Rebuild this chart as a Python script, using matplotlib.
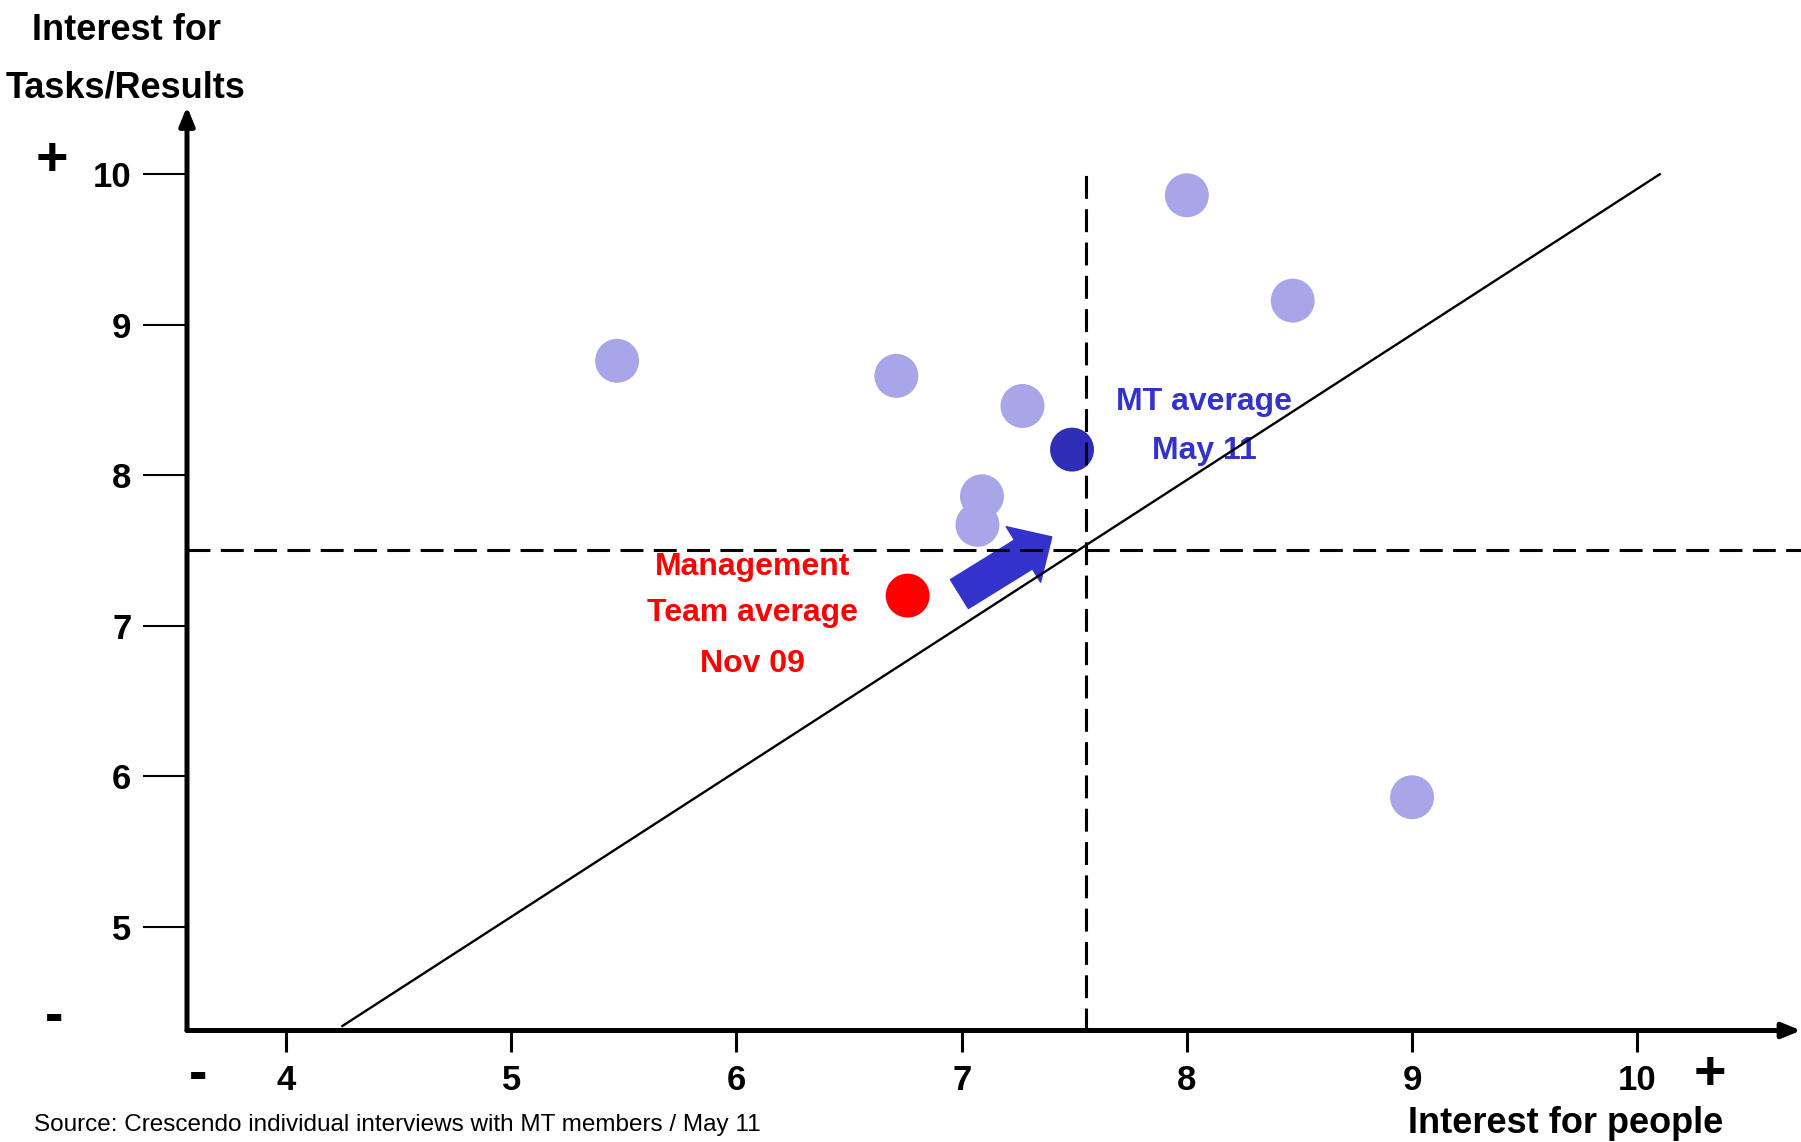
import matplotlib
matplotlib.use('Agg')
import matplotlib.pyplot as plt
from matplotlib import font_manager
from matplotlib.patches import FancyArrowPatch

# individual MT members, May 11 (interest for people, interest for tasks)
members_x = [5.47, 6.71, 7.27, 7.09, 7.07, 8.00, 8.47, 9.00]
members_y = [8.76, 8.66, 8.46, 7.86, 7.67, 9.86, 9.16, 5.86]
# team averages
avg_may11 = (7.49, 8.17)
avg_nov09 = (6.76, 7.20)

x_ticks = [4, 5, 6, 7, 8, 9, 10]
y_ticks = [5, 6, 7, 8, 9, 10]

# quadrant lines and diagonal
mid_x, mid_y = 7.55, 7.5
diag_x = [4.25, 10.10]
diag_y = [4.34, 10.00]

# arrow showing the move Nov 09 -> May 11
arrow_from = (6.99, 7.21)
arrow_to = (7.40, 7.59)

names = {f.name for f in font_manager.fontManager.ttflist}
main_font = 'Liberation Sans Narrow' if 'Liberation Sans Narrow' in names else 'Liberation Sans'
plt.rcParams['font.family'] = [main_font, 'DejaVu Sans']

W, H = 1801, 1142
fig = plt.figure(figsize=(W / 100, H / 100), dpi=100)
ax = fig.add_axes([187 / W, 1 - 1030.5 / H, 1 - 187 / W, (1030.5 - 106.5) / H])
ax.set_xlim(3.56, 10.727)
ax.set_ylim(4.31, 10.45)
for s in ax.spines.values():
    s.set_visible(False)
ax.patch.set_visible(False)

# axis lines with arrow heads
axis_kw = dict(arrowstyle='-|>,head_length=1.1,head_width=0.45', lw=3.6, color='black',
               mutation_scale=10, shrinkA=0, shrinkB=0)
ax.annotate('', xy=(1, 0), xytext=(0, 0), xycoords='axes fraction', arrowprops=axis_kw)
ax.annotate('', xy=(0, 1), xytext=(0, 0), xycoords='axes fraction', arrowprops=axis_kw)

ax.set_xticks(x_ticks)
ax.set_yticks(y_ticks)
ax.tick_params(axis='x', direction='out', length=15, width=2.2, pad=9, labelsize=25)
ax.tick_params(axis='y', direction='out', length=32, width=1.5, pad=8, labelsize=25)
for lab in ax.get_xticklabels() + ax.get_yticklabels():
    lab.set_fontweight('bold')

dash = (0, (7.5, 3.4))
ax.axhline(mid_y, color='black', lw=2.2, linestyle=dash, zorder=4)
ax.vlines(mid_x, 4.31, 10.04, color='black', lw=2.2, linestyle=dash, zorder=4)
ax.plot(diag_x, diag_y, color='black', lw=1.7, zorder=4)

ax.scatter(members_x, members_y, s=1000, color='#a6a6e8', edgecolors='none', zorder=2)
ax.scatter(*avg_may11, s=1000, color='#2e2eb8', edgecolors='none', zorder=2)
ax.scatter(*avg_nov09, s=1000, color='#ff0000', edgecolors='none', zorder=2)

ax.add_patch(FancyArrowPatch(arrow_from, arrow_to,
                             arrowstyle='simple,head_length=24,head_width=47,tail_width=24.5',
                             mutation_scale=1, color='#3333cc', shrinkA=0, shrinkB=0, zorder=3))

blue = '#3333cc'
ax.text(8.077, 8.43, 'MT average', color=blue, ha='center', va='baseline', fontsize=23, fontweight='bold', zorder=3)
ax.text(8.077, 8.11, 'May 11', color=blue, ha='center', va='baseline', fontsize=23, fontweight='bold', zorder=3)
for txt, yb in zip(['Management', 'Team average', 'Nov 09'], [7.34, 7.03, 6.69]):
    ax.text(6.07, yb, txt, color='red', ha='center', va='baseline', fontsize=23, fontweight='bold', zorder=3)


def ftext(px, py, s, **kw):
    fig.text(px / W, 1 - py / H, s, va='baseline', **kw)


ftext(126, 40, 'Interest for', ha='center', fontsize=26, fontweight='bold')
ftext(126, 97, 'Tasks/Results', ha='center', fontsize=26, fontweight='bold')
ftext(1566, 1133, 'Interest for people', ha='center', fontsize=26, fontweight='bold')
ftext(34, 1131, 'Source: Crescendo individual interviews with MT members / May 11', ha='left', fontsize=17.5)
ftext(52, 175, '+', ha='center', fontsize=40, fontweight='bold')
ftext(54, 1032, '-', ha='center', fontsize=40, fontweight='bold')
ftext(198, 1090, '-', ha='center', fontsize=40, fontweight='bold')
ftext(1710, 1089, '+', ha='center', fontsize=40, fontweight='bold')

fig.savefig('out.png', dpi=100)
